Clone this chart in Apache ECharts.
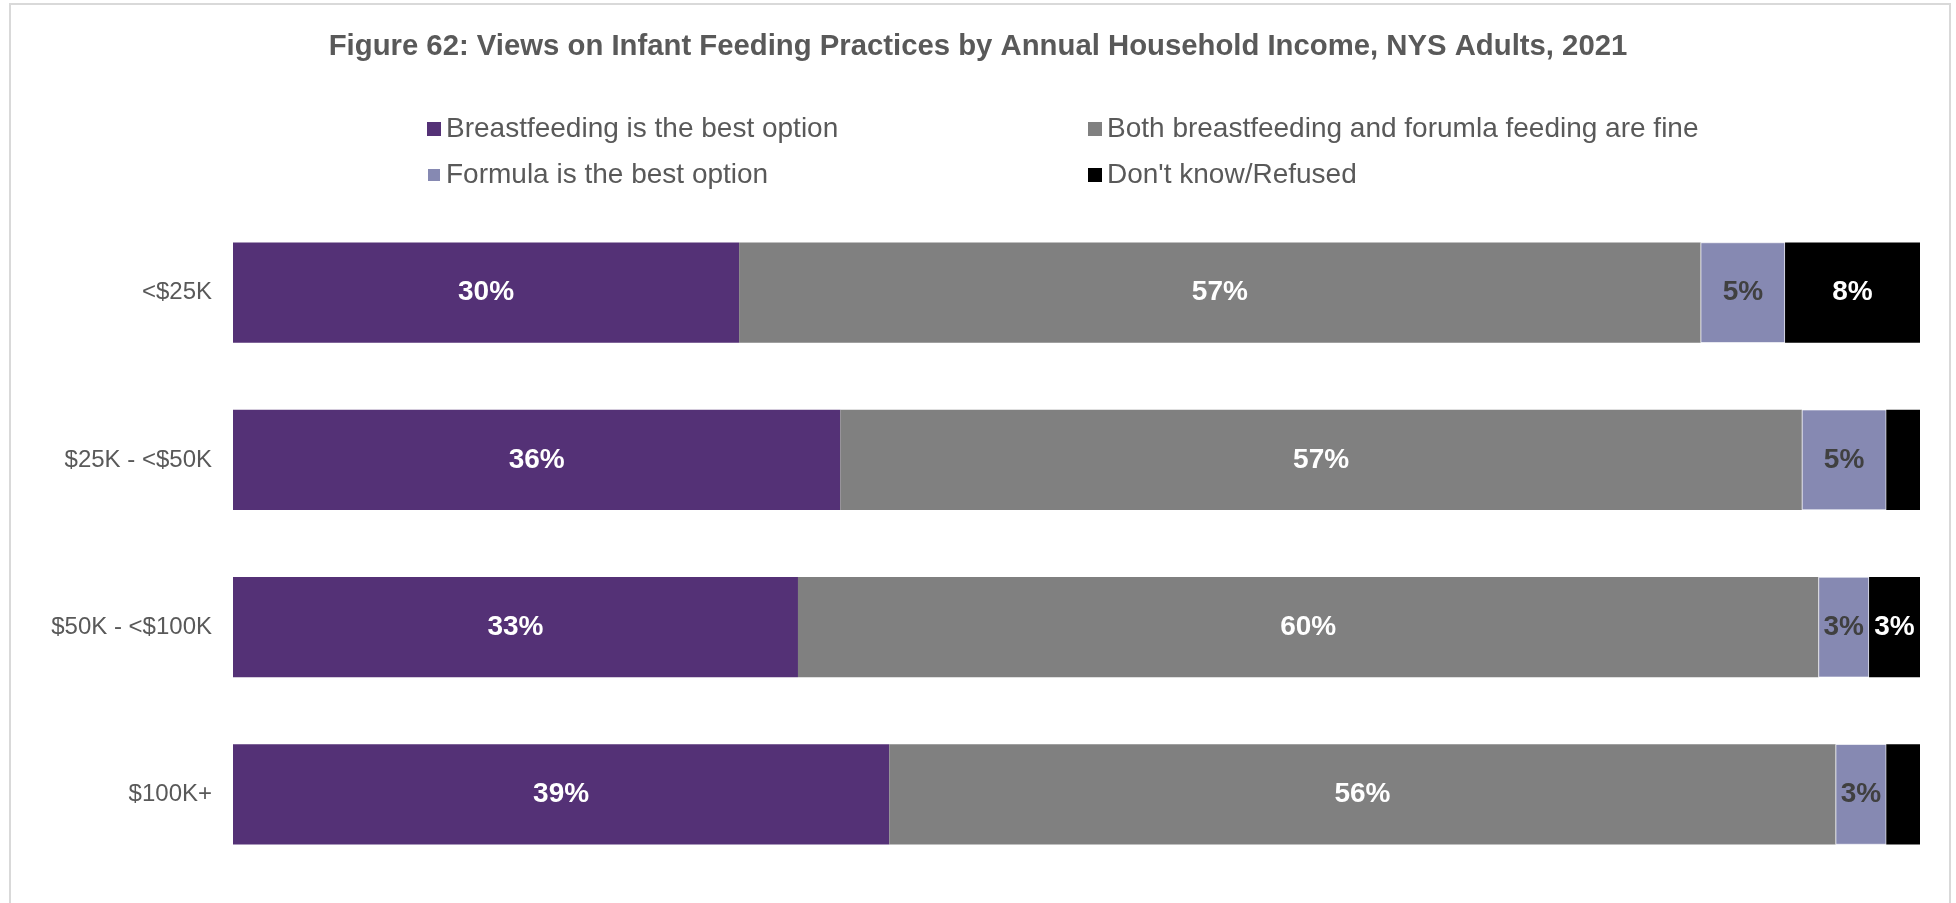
<!DOCTYPE html>
<html>
<head>
<meta charset="utf-8">
<script src="https://cdn.jsdelivr.net/npm/echarts@6/dist/echarts.min.js"></script>
<style>
html,body{margin:0;padding:0;background:#fff;}
#chart{width:1956px;height:903px;}
</style>
</head>
<body>
<div id="chart"></div>
<script>
const categories = ['<$25K', '$25K - <$50K', '$50K - <$100K', '$100K+'];
const seriesNames = ['Breastfeeding is the best option', 'Both breastfeeding and forumla feeding are fine', 'Formula is the best option', "Don't know/Refused"];
const breastfeeding = [30.0, 36.0, 33.49, 38.9];
const both = [57.0, 57.0, 60.49, 56.1];
const formula = [5.0, 5.0, 3.0, 3.0];
const dontKnow = [8.0, 2.0, 3.02, 2.0];
const colors = ['#543176', '#808080', '#8689B2', '#000000'];
const labelColors = ['#ffffff', '#ffffff', '#404040', '#ffffff'];
const values = [breastfeeding, both, formula, dontKnow];

const chart = echarts.init(document.getElementById('chart'));
const series = seriesNames.map((name, i) => ({
  name: name,
  type: 'bar',
  stack: 'total',
  data: values[i],
  barCategoryGap: '40%',
  itemStyle: { color: colors[i], borderColor: i === 2 ? '#ffffff' : 'transparent', borderWidth: i === 2 ? 0.6 : 0 },
  label: {
    show: true,
    position: 'inside',
    color: labelColors[i],
    fontFamily: 'Liberation Sans, Arial, sans-serif',
    fontWeight: 'bold',
    fontSize: 28,
    formatter: p => p.value >= 2.5 ? Math.round(p.value) + '%' : ''
  },
  emphasis: { disabled: true }
}));

const legendText = { fontFamily: 'Liberation Sans, Arial, sans-serif', fontSize: 28, color: '#595959', lineHeight: 30 };

chart.setOption({
  animation: false,
  backgroundColor: '#ffffff',
  graphic: [{
    type: 'rect',
    shape: { x: 10, y: 4, width: 1940, height: 940 },
    style: { fill: 'none', stroke: '#d9d9d9', lineWidth: 2 },
    silent: true
  }],
  title: {
    text: 'Figure 62: Views on Infant Feeding Practices by Annual Household Income, NYS Adults, 2021',
    left: 'center',
    top: 27,
    textStyle: { fontFamily: 'Liberation Sans, Arial, sans-serif', fontWeight: 'bold', fontSize: 29.3, color: '#595959' }
  },
  legend: [
    {
      data: [seriesNames[0], seriesNames[2]],
      orient: 'vertical',
      left: 421,
      top: 109,
      itemWidth: 14,
      itemHeight: 14,
      itemGap: 16,
      icon: 'rect',
      textStyle: legendText
    },
    {
      data: [seriesNames[1], seriesNames[3]],
      orient: 'vertical',
      left: 1083,
      top: 109,
      itemWidth: 14,
      itemHeight: 14,
      itemGap: 16,
      icon: 'rect',
      textStyle: legendText
    }
  ],
  grid: { left: 233, right: 36, top: 209, height: 669, containLabel: false },
  xAxis: { type: 'value', min: 0, max: 100, show: false },
  yAxis: {
    type: 'category',
    data: categories,
    inverse: true,
    axisLine: { show: false },
    axisTick: { show: false },
    axisLabel: { margin: 21, fontFamily: 'Liberation Sans, Arial, sans-serif', fontSize: 24, color: '#595959' }
  },
  series: series
});
</script>
</body>
</html>
